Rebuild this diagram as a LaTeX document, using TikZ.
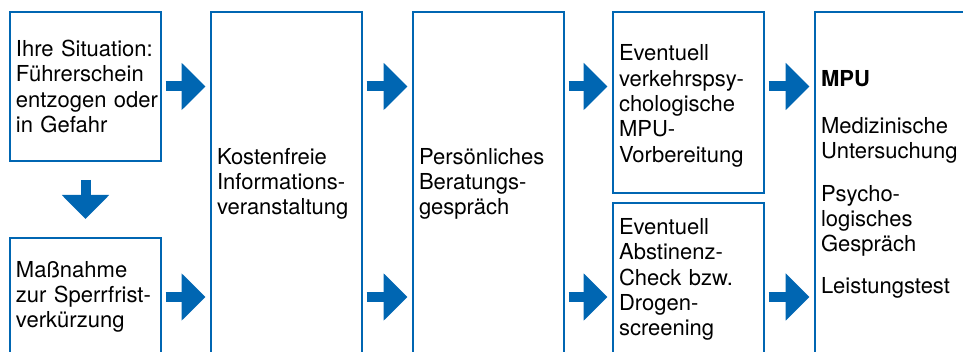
\documentclass[tikz,border=0pt]{standalone}
\usepackage{fontspec}
\setmainfont{TeX Gyre Heros}
\usetikzlibrary{arrows.meta}
\definecolor{mpublue}{RGB}{0,102,178}
\tikzset{
  stage/.style={draw=mpublue, line width=2pt, anchor=north west, outer sep=0pt,
    minimum width=151pt, text width=139pt, inner xsep=6pt, align=left,
    font=\fontsize{22}{25.3}\selectfont},
  flow/.style={mpublue, line width=10pt, -{Triangle[length=24pt,width=46pt]},
    shorten <=4.5pt, shorten >=5.5pt},
}

\begin{document}
\begin{tikzpicture}[x=1pt,y=-1pt]
    \clip (0,0) rectangle (963,352);
    % Ausgangslage
    \node[stage, minimum height=149pt] (sit) at (10,12)
        {Ihre Situation:\\Führerschein\\entzogen~oder\\in Gefahr};
    \node[stage, minimum height=118pt] (sperr) at (10,238)
        {Maßnahme\\zur Sperrfrist-\\verkürzung};
    % Beratung
    \node[stage, minimum height=344pt] (info) at (211,12)
        {Kostenfreie\\Informations-\\veranstaltung};
    \node[stage, minimum height=344pt] (berat) at (413,12)
        {Persönliches\\Beratungs-\\gespräch};
    % Vorbereitung
    \node[stage, minimum height=181pt] (vorb) at (613,12)
        {\rule{0pt}{23pt}Eventuell\\verkehrspsy-\\chologische\\MPU-\\Vorbereitung};
    \node[stage, minimum height=153pt] (abst) at (613,203)
        {Eventuell\\Abstinenz-\\Check bzw.\\Drogen-\\screening};
    % MPU
    \node[stage, minimum height=344pt] (mpu) at (815,12)
        {{\bfseries MPU}\\[22pt]Medizinische\\Untersuchung\\[17pt]Psycho-\\logisches\\Gespräch\\[16pt]Leistungstest};

    \draw[flow, shorten <=19pt, shorten >=19pt] (sit.south) -- (sperr.north);
    \draw[flow] (sit.east) -- (sit.east -| info.west);
    \draw[flow] (sperr.east) -- (sperr.east -| info.west);
    \draw[flow] (sit.east -| info.east) -- (sit.east -| berat.west);
    \draw[flow] (sperr.east -| info.east) -- (sperr.east -| berat.west);
    \draw[flow] (sit.east -| berat.east) -- (sit.east -| vorb.west);
    \draw[flow] (sperr.east -| berat.east) -- (sperr.east -| abst.west);
    \draw[flow] (sit.east -| vorb.east) -- (sit.east -| mpu.west);
    \draw[flow] (sperr.east -| abst.east) -- (sperr.east -| mpu.west);
\end{tikzpicture}
\end{document}
